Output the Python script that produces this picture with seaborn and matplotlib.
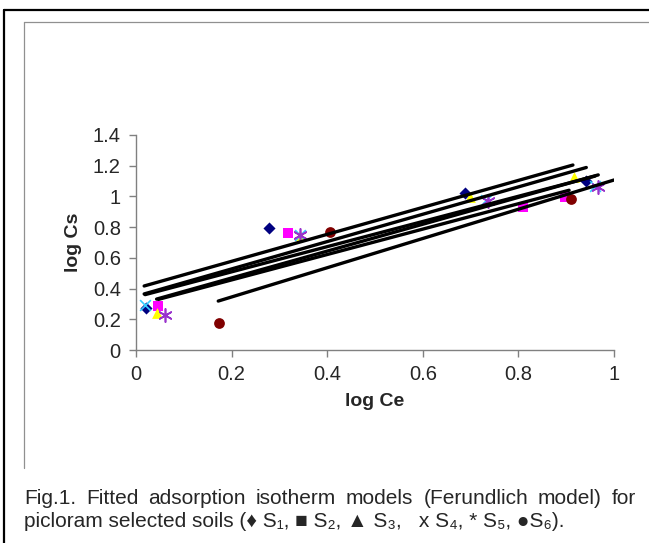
import numpy as np
import pandas as pd
import matplotlib.pyplot as plt
from matplotlib.lines import Line2D
import seaborn as sns

# measured points (log Ce, log Cs) per soil
soils = ['S1', 'S2', 'S3', 'S4', 'S5', 'S6']
x_S1 = [0.021, 0.279, 0.688, 0.942]
y_S1 = [0.272, 0.797, 1.021, 1.103]
x_S2 = [0.047, 0.318, 0.810, 0.897]
y_S2 = [0.287, 0.764, 0.934, 0.999]
x_S3 = [0.043, 0.342, 0.698, 0.916]
y_S3 = [0.239, 0.749, 0.999, 1.129]
x_S4 = [0.019, 0.342, 0.732, 0.960]
y_S4 = [0.290, 0.749, 0.977, 1.070]
x_S5 = [0.061, 0.342, 0.737, 0.967]
y_S5 = [0.228, 0.749, 0.970, 1.064]
x_S6 = [0.174, 0.405, 0.911]
y_S6 = [0.178, 0.767, 0.982]

# fitted Freundlich lines: slope, intercept, x range
fit_slope = [0.890, 0.827, 0.878, 0.820, 0.875, 0.952]
fit_icpt = [0.350, 0.291, 0.402, 0.345, 0.294, 0.155]
fit_xmin = [0.017, 0.047, 0.017, 0.019, 0.043, 0.172]
fit_xmax = [0.942, 0.906, 0.914, 0.960, 0.967, 1.000]

yticks = [0, 0.2, 0.4, 0.6, 0.8, 1, 1.2, 1.4]
ytick_labels = ['0', '0.2', '0.4', '0.6', '0.8', '1', '1.2', '1.4']
xticks = [0, 0.2, 0.4, 0.6, 0.8, 1]
xtick_labels = ['0', '0.2', '0.4', '0.6', '0.8', '1']

sns.set_style('white')
plt.rcParams['font.family'] = ['Liberation Sans', 'DejaVu Sans']

xs = [x_S1, x_S2, x_S3, x_S4, x_S5, x_S6]
ys = [y_S1, y_S2, y_S3, y_S4, y_S5, y_S6]
pts = pd.concat([pd.DataFrame({'soil': s, 'logCe': xv, 'logCs': yv})
                 for s, xv, yv in zip(soils, xs, ys)], ignore_index=True)

rows = []
for s, m, b, a0, a1 in zip(soils, fit_slope, fit_icpt, fit_xmin, fit_xmax):
    for xv in (a0, a1):
        rows.append({'soil': s, 'logCe': xv, 'logCs': m * xv + b})
fits = pd.DataFrame(rows)

colors = {'S1': '#000080', 'S2': '#ff00ff', 'S3': '#ffff00',
          'S4': '#33ccff', 'S5': '#9933cc', 'S6': '#800000'}
markers = {'S1': 'D', 'S2': 's', 'S3': '^', 'S4': 'x', 'S5': (6, 2, 0), 'S6': 'o'}
sizes = {'S1': 38, 'S2': 60, 'S3': 60, 'S4': 60, 'S5': 90, 'S6': 60}

fig = plt.figure(figsize=(6.49, 5.43), dpi=100)
ax = fig.add_axes([0.2096, 0.3554, 0.7365, 0.396])

for s in soils:
    d = pts[pts['soil'] == s]
    sns.scatterplot(data=d, x='logCe', y='logCs', ax=ax, color=colors[s],
                    marker=markers[s], s=sizes[s], linewidth=1.2 if s in ('S4', 'S5') else 0,
                    edgecolor=colors[s], zorder=2, legend=False)

for s in soils:
    d = fits[fits['soil'] == s]
    sns.lineplot(data=d, x='logCe', y='logCs', ax=ax, color='black',
                 linewidth=2.4, zorder=3, legend=False)

ax.set_xlim(0, 1)
ax.set_ylim(0, 1.4)
ax.set_xticks(xticks)
ax.set_xticklabels(xtick_labels)
ax.set_yticks(yticks)
ax.set_yticklabels(ytick_labels)
ax.tick_params(axis='both', direction='out', length=5, width=1, color='#808080',
               labelsize=14.5, pad=6, left=True, bottom=True)
ax.set_xlabel('log Ce', fontsize=14, fontweight='bold', labelpad=6)
ax.set_ylabel('log Cs', fontsize=14, fontweight='bold', labelpad=8)
for side in ('top', 'right'):
    ax.spines[side].set_visible(False)
for side in ('left', 'bottom'):
    ax.spines[side].set_color('#808080')
    ax.spines[side].set_linewidth(1)

W, H = 649, 543
# outer black frame and inner grey chart frame
fig.add_artist(Line2D([4 / W, 4 / W], [0, 1 - 10 / H], color='black', lw=1.6))
fig.add_artist(Line2D([4 / W, 1], [1 - 10 / H, 1 - 10 / H], color='black', lw=1.6))
fig.add_artist(Line2D([24 / W, 24 / W], [1 - 468 / H, 1 - 22 / H], color='#909090', lw=0.9))
fig.add_artist(Line2D([24 / W, 1], [1 - 22 / H, 1 - 22 / H], color='#909090', lw=0.9))

# caption, first line justified
line1 = 'Fig.1. Fitted adsorption isotherm models (Ferundlich model) for'.split(' ')
line2 = 'picloram selected soils (\u2666 S\u2081, \u25a0 S\u2082, \u25b2 S\u2083,   x S\u2084, * S\u2085, \u25cfS\u2086).'
cap_size = 15
fig.canvas.draw()
renderer = fig.canvas.get_renderer()
words = [fig.text(0, 0, w, fontsize=cap_size) for w in line1]
widths = [t.get_window_extent(renderer).width for t in words]
x0, x1 = 24, 636
gap = (x1 - x0 - sum(widths)) / (len(words) - 1)
xpos = x0
for t, w in zip(words, widths):
    t.set_position((xpos / W, 1 - 504 / H))
    xpos += w + gap
fig.text(24 / W, 1 - 527 / H, line2, fontsize=cap_size)

fig.savefig('out.png', dpi=100)
